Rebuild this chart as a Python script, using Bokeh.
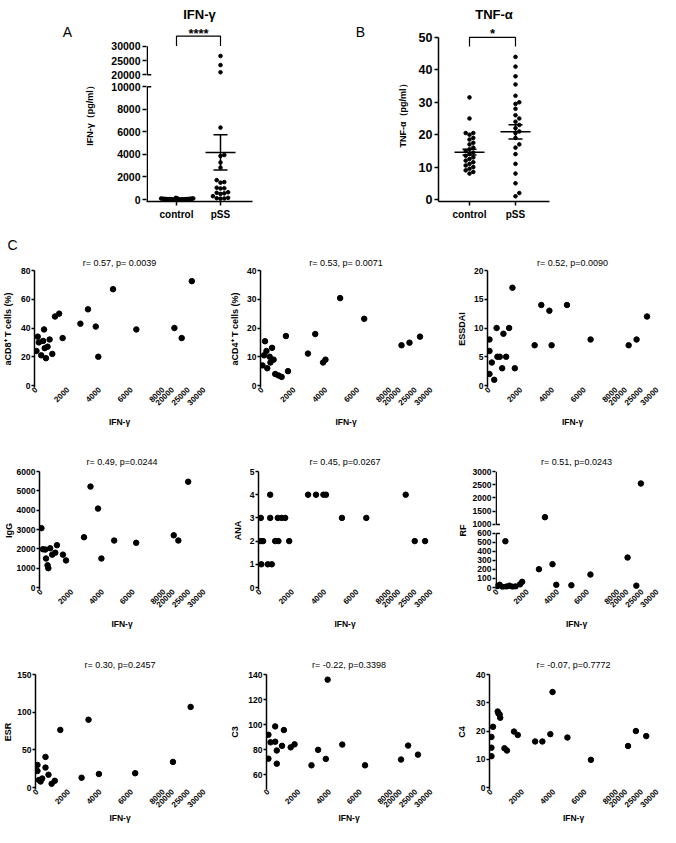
import numpy as np
from math import pi
from bokeh.plotting import figure
from bokeh.layouts import column, row
from bokeh.models import Range1d, FixedTicker, ColumnDataSource
from bokeh.core.properties import value
from bokeh.embed import file_html
from bokeh.resources import INLINE

FONT = "Liberation Sans"

# ---------------- data: panels A and B ----------------
group_names = ["control", "pSS"]
group_pos = [1, 2]

ifn_control = [150, 120, 100, 90, 80, 75, 70, 60, 55, 50, 45, 40, 40, 35, 30, 30,
               25, 20, 20, 15, 10, 10, 5, 5, 0, 0]
ifn_pss = [26600, 23400, 20900, 6380, 3950, 3860, 3290, 2830, 1720, 1550, 1500, 1050,
           1000, 980, 650, 600, 550, 500, 300, 150, 120, 100, 80]
ifn_mean = [55, 4180]
ifn_sem = [10, 1570]
ifn_ticks_low = [0, 2000, 4000, 6000, 8000, 10000]
ifn_ticks_high = [20000, 25000, 30000]
ifn_sig = "****"

tnf_control = [31.5, 25, 20.5, 20.5, 20, 19, 18.5, 17.5, 17, 16, 15.5, 15, 14.5, 14,
               13.5, 13, 12.5, 12, 11.5, 11, 10.5, 10, 9.5, 9, 8.5, 8]
tnf_pss = [44, 41, 38, 35.5, 32, 30, 29.5, 28, 26, 25, 24, 23, 22, 21, 20.5, 19, 17,
           16, 14, 11, 8, 5, 2, 1]
tnf_mean = [14.6, 20.9]
tnf_sem = [0.9, 2.2]
tnf_ticks = [0, 10, 20, 30, 40, 50]
tnf_sig = "*"

# ---------------- data: panel C (IFN-γ vs clinical values) ----------------
x_tick_values = [0, 2000, 4000, 6000, 8000, 20000, 25000, 30000]
x_label = "IFN-γ"

corr_titles = ["r= 0.57, p= 0.0039", "r= 0.53, p= 0.0071", "r= 0.52, p=0.0090",
               "r= 0.49, p=0.0244", "r= 0.45, p=0.0267", "r= 0.51, p=0.0243",
               "r= 0.30, p=0.2457", "r= -0.22, p=0.3398", "r= -0.07, p=0.7772"]
corr_ylabels = ["aCD8⁺ T cells (%)", "aCD4⁺ T cells (%)", "ESSDAI",
                "IgG", "ANA", "RF", "ESR", "C3", "C4"]

cd8_ifn = [0, 80, 420, 480, 520, 830, 1170, 1430, 1650, 2770, 3250, 3740, 4830, 6300,
           20500, 22800, 26000, 150, 300, 600, 700, 1000, 3900]
cd8_val = [24, 34, 31, 39, 26, 32, 48, 50, 33, 43, 53, 41, 67, 39, 40, 33, 72.6, 30,
           21, 19, 27, 22, 20]
cd8_ticks = [0, 20, 40, 60, 80]

cd4_ifn = [160, 600, 1470, 2850, 3310, 4870, 6380, 20600, 23100, 26400, 0, 100, 300,
           450, 500, 700, 800, 1000, 1200, 1600, 3800, 3950, 250]
cd4_val = [15.4, 13.1, 17.2, 11.1, 17.9, 30.4, 23.2, 14.0, 14.9, 17.0, 7, 10.5, 6, 10,
           8, 9, 4, 3.5, 3, 5, 8, 9, 12]
cd4_ticks = [0, 10, 20, 30, 40]

essdai_ifn = [0, 0, 450, 880, 1240, 1450, 2850, 3270, 3780, 3920, 4890, 6380, 20900,
              23400, 26700, 0, 150, 300, 500, 650, 800, 1050, 1600]
essdai_val = [8, 6, 10, 9, 10, 17, 7, 14, 13, 7, 14, 8, 7, 8, 12, 2, 4, 1, 5, 5, 3, 5, 3]
essdai_ticks = [0, 5, 10, 15, 20]

igg_ifn = [0, 100, 250, 570, 1010, 2770, 3190, 3680, 4730, 6160, 20000, 21500, 24700,
           300, 400, 450, 700, 900, 1400, 1600, 3900]
igg_val = [3070, 1980, 1960, 2030, 2190, 2600, 5220, 4080, 2430, 2310, 2700, 2430, 5470,
           1500, 1150, 1000, 1700, 1800, 1700, 1400, 1500]
igg_ticks = [0, 1000, 2000, 3000, 4000, 5000, 6000]

ana_ifn = [600, 2950, 3440, 3900, 4060, 22000, 20, 600, 1070, 1310, 1530, 5050, 6560,
           20, 160, 910, 1110, 1780, 24800, 28000, 50, 450, 700]
ana_val = [4, 4, 4, 4, 4, 4, 3, 3, 3, 3, 3, 3, 3, 2, 2, 2, 2, 2, 2, 2, 1, 1, 1]
ana_ticks = [0, 1, 2, 3, 4, 5]

rf_ifn = [530, 3150, 24500, 2750, 3650, 6160, 20100, 1640, 0, 150, 350, 600, 800, 1000,
          1200, 1500, 3900, 4900, 23000]
rf_val = [514, 1275, 2547, 203, 259, 144, 333, 63, 15, 30, 5, 10, 20, 8, 12, 35, 30, 25, 20]
rf_ticks = [0, 100, 200, 300, 400, 500, 600, 1000, 1500, 2000, 2500, 3000]

esr_ifn = [0, 510, 510, 1450, 3240, 20000, 25600, 0, 100, 300, 700, 900, 1100, 2800,
           3900, 6200, 200]
esr_val = [30, 40.6, 26.5, 76.5, 90, 34, 107, 22, 10, 12, 17, 5, 9, 13, 18, 19, 8]
esr_ticks = [0, 50, 100, 150]

c3_ifn = [0, 0, 140, 440, 440, 545, 545, 885, 1006, 1450, 1700, 2800, 3230, 3730, 3850,
          4800, 6280, 20100, 22400, 25600]
c3_val = [92, 73, 86, 98.7, 86.5, 79.5, 69, 83.2, 95.8, 82, 84.4, 67.7, 80, 72.8, 135.9,
          84.2, 67.7, 72.3, 83.4, 76.2]
c3_ticks = [60, 80, 100, 120, 140]

c4_ifn = [0, 0, 0, 100, 400, 450, 520, 560, 830, 990, 1440, 1680, 2790, 3250, 3760, 3900,
          4850, 6350, 20600, 23100, 26400]
c4_val = [17.9, 14.1, 11.1, 21.5, 26.9, 26.2, 25.9, 24.7, 13.9, 13.1, 19.8, 18.6, 16.3,
          16.3, 18.9, 33.8, 17.7, 9.8, 14.7, 20, 18.2]
c4_ticks = [0, 10, 20, 30, 40]

panel_letters = ["A", "B", "C"]

# ---------------- helpers ----------------
PAD = 2


def style_axis(ax, tick_size):
    ax.axis_line_color = "black"
    ax.axis_line_width = 1.5
    ax.major_tick_line_color = "black"
    ax.major_tick_line_width = 1.5
    ax.major_tick_in = 0
    ax.major_tick_out = 4
    ax.minor_tick_line_color = None
    ax.major_label_text_font = FONT
    ax.major_label_text_font_style = "bold"
    ax.major_label_text_font_size = tick_size
    ax.major_label_text_color = "black"
    ax.major_label_standoff = 2
    ax.axis_label_text_font = FONT
    ax.axis_label_text_font_style = "bold"
    ax.axis_label_text_color = "black"


def new_fig(w, h, left, top, frame_w, frame_h, xr, yr):
    p = figure(width=w, height=h, x_range=xr, y_range=yr, output_backend="svg",
               toolbar_location=None, min_border_left=left, min_border_top=top,
               min_border_right=w - left - frame_w, min_border_bottom=h - top - frame_h)
    p.grid.visible = False
    p.outline_line_color = None
    p.title.text_font = FONT
    p.title.align = "center"
    p.title.text_color = "black"
    return p


def letter_box(w, h, letter, lx, ly):
    """A blank strip that only carries a panel letter (lx, ly: px from its top-left)."""
    p = figure(width=w, height=h, x_range=Range1d(0, w), y_range=Range1d(0, h),
               output_backend="svg", toolbar_location=None, min_border=0,
               x_axis_type=None, y_axis_type=None)
    p.grid.visible = False
    p.outline_line_color = None
    p.text(x=[lx], y=[h - ly], text=[letter], text_font=value(FONT), text_font_size="14px",
           text_align="center", text_baseline="middle", text_color="black")
    return p


def swarm(ypx, d):
    ypx = np.asarray(ypx, dtype=float)
    steps = [0.0]
    for k in range(1, 80):
        steps += [k * d / 2, -k * d / 2]
    out = np.zeros(len(ypx))
    px, py = [], []
    for i in np.argsort(ypx):
        for c in steps:
            if all((c - a) ** 2 + (ypx[i] - b) ** 2 >= d * d - 1e-9 for a, b in zip(px, py)):
                out[i] = c
                break
        px.append(out[i])
        py.append(ypx[i])
    return out


def group_panel(p, ctrl, pss, mean, sem, ymap, sx, sy, d_list):
    gp = np.array(group_pos, dtype=float)
    for g, vals, d in zip(gp, [ctrl, pss], d_list):
        u = ymap(vals)
        off = swarm(u * sy, d) / sx
        p.scatter(g + off, u, size=3.6, fill_color="black", line_color="black")
    m = ymap(mean)
    lo = ymap(np.subtract(mean, sem))
    hi = ymap(np.add(mean, sem))
    p.segment(x0=gp - 15 / sx, x1=gp + 15 / sx, y0=m, y1=m, line_color="black", line_width=1.5)
    p.segment(x0=gp, x1=gp, y0=lo, y1=hi, line_color="black", line_width=1.5)
    for yy in (lo, hi):
        p.segment(x0=gp - 7 / sx, x1=gp + 7 / sx, y0=yy, y1=yy, line_color="black", line_width=1.5)


def sig_bracket(p, sig, y_leg, y_top, y_text):
    p.line(x=[group_pos[0], group_pos[0], group_pos[1], group_pos[1]],
           y=[y_leg, y_top, y_top, y_leg], line_color="black", line_width=1.2)
    p.text(x=[sum(group_pos) / 2], y=[y_text], text=[sig], text_font=value(FONT),
           text_font_size="13px", text_font_style="bold", text_align="center",
           text_baseline="middle", text_color="black")


def group_axes(p, tick_size, ylabel, label_standoff):
    xa = p.xaxis[0]
    style_axis(xa, "10px")
    xa.ticker = FixedTicker(ticks=group_pos)
    xa.major_label_overrides = dict(zip(group_pos, group_names))
    xa.major_label_standoff = 3
    ya = p.yaxis[0]
    style_axis(ya, tick_size)
    ya.axis_label = ylabel
    ya.axis_label_text_font_size = "9px"
    ya.axis_label_standoff = label_standoff
    return ya


def broken_axis_line(p, xr, sx, sy, y_start, lo, hi, top):
    """Two axis-line pieces with a gap between lo and hi (transformed values)."""
    x0 = xr.start + 0.75 / sx
    p.segment(x0=[x0, x0], x1=[x0, x0], y0=[y_start, hi], y1=[lo, top],
              line_color="black", line_width=1.5)
    p.segment(x0=[x0, x0], x1=[x0 + 4 / sx] * 2, y0=[lo, hi], y1=[lo, hi],
              line_color="black", line_width=1.5)


# ---------------- panel A ----------------
A_W, A_H, A_LEFT, A_TOP, A_FW, A_FH = 218, 235, 64, 24, 106, 181
A_SX, A_SY = 44.0, 0.0116
IFN_GAP, IFN_K = 1060.0, 0.2534


def ifn_u(v):
    v = np.asarray(v, dtype=float)
    return np.where(v <= 10000, v, 10000 + IFN_GAP + (v - 20000) * IFN_K)


a_x0 = 1 - 30 / A_SX
xrA = Range1d(a_x0, a_x0 + A_FW / A_SX)
yrA = Range1d(-PAD / A_SY, (A_FH - PAD) / A_SY)
pA = new_fig(A_W, A_H, A_LEFT, A_TOP, A_FW, A_FH, xrA, yrA)
pA.title.text = "IFN-γ"
pA.title.text_font_size = "13px"
pA.title.text_font_style = "bold"
pA.title.standoff = 8
group_panel(pA, ifn_control, ifn_pss, ifn_mean, ifn_sem, ifn_u, A_SX, A_SY, [1.4, 3.8])
sig_bracket(pA, ifn_sig, yrA.end - 21 / A_SY, yrA.end - 11 / A_SY, yrA.end - 8 / A_SY)
ya = group_axes(pA, "10.5px", "IFN-γ（pg/ml）", 13)
a_ticks = ifn_ticks_low + ifn_ticks_high
a_pos = [round(float(t), 1) for t in ifn_u(a_ticks)]
ya.ticker = FixedTicker(ticks=a_pos)
ya.major_label_overrides = {t: str(v) for t, v in zip(a_pos, a_ticks)}
ya.axis_line_color = None
broken_axis_line(pA, xrA, A_SX, A_SY, yrA.start, float(ifn_ticks_low[-1]),
                 float(ifn_u([ifn_ticks_high[0]])[0]), a_pos[-1])

# ---------------- panel B ----------------
B_W, B_H, B_LEFT, B_TOP, B_FW, B_FH = 270, 235, 48, 24, 111, 177
B_SX, B_SY = 46.0, 3.26
b_x0 = 1 - 31 / B_SX
xrB = Range1d(b_x0, b_x0 + B_FW / B_SX)
yrB = Range1d(-PAD / B_SY, (B_FH - PAD) / B_SY)
pB = new_fig(B_W, B_H, B_LEFT, B_TOP, B_FW, B_FH, xrB, yrB)
pB.title.text = "TNF-α"
pB.title.text_font_size = "13px"
pB.title.text_font_style = "bold"
pB.title.standoff = 8
lin = lambda v: np.asarray(v, dtype=float)
group_panel(pB, tnf_control, tnf_pss, tnf_mean, tnf_sem, lin, B_SX, B_SY, [3.8, 3.8])
sig_bracket(pB, tnf_sig, yrB.end - 21 / B_SY, yrB.end - 12 / B_SY, yrB.end - 8 / B_SY)
yb = group_axes(pB, "12.5px", "TNF-α（pg/ml）", 8)
yb.ticker = FixedTicker(ticks=tnf_ticks)
yb.bounds = (yrB.start, tnf_ticks[-1])

boxA = letter_box(82, 235, panel_letters[0], 67, 9)
boxB = letter_box(90, 235, panel_letters[1], 60, 9)
top_row = row(boxA, pA, boxB, pB)
boxC = letter_box(660, 17, panel_letters[2], 12, 9)

# ---------------- panel C ----------------
X_DATA_PX = 171
Y_DATA_PX = 116
X_GAP, X_K = 600.0, 0.2


def ifn_x(v):
    v = np.asarray(v, dtype=float)
    return np.where(v <= 8000, v, 8000 + X_GAP + (v - 20000) * X_K)


XT_MAX = float(ifn_x([x_tick_values[-1]])[0])

RF_GAP, RF_K = 100.0, 0.2944


def rf_y(v):
    v = np.asarray(v, dtype=float)
    return np.where(v <= 600, v, 600 + RF_GAP + (v - 1000) * RF_K)


def corr_panel(title, ylabel, xv, yv, yticks, ylo, yhi, w, h, left, top, lab_standoff,
               xlab_standoff, title_standoff, ymap=lin, ybreak=None):
    s = X_DATA_PX / XT_MAX
    yt_hi = float(ymap([yhi])[0])
    sy = Y_DATA_PX / (yt_hi - ylo)
    frame_w, frame_h = X_DATA_PX + PAD, Y_DATA_PX + PAD
    xr = Range1d(-PAD / s, XT_MAX)
    yr = Range1d(ylo - PAD / sy, yt_hi)
    p = new_fig(w, h, left, top, frame_w, frame_h, xr, yr)
    p.title.text = title
    p.title.text_font_size = "9px"
    p.title.text_font_style = "normal"
    p.title.standoff = title_standoff
    p.title.offset = -5
    src = ColumnDataSource(dict(x=ifn_x(xv), y=ymap(yv)))
    p.scatter("x", "y", source=src, size=5.5, fill_color="black", line_color="black")
    xa = p.xaxis[0]
    style_axis(xa, "8px")
    xa.axis_line_color = None
    xa.major_tick_line_color = None
    xa.major_tick_out = 0
    xa.major_label_standoff = 1
    tpos = [round(float(t), 1) for t in ifn_x(x_tick_values)]
    xa.ticker = FixedTicker(ticks=tpos)
    xa.major_label_overrides = {t: str(v) for t, v in zip(tpos, x_tick_values)}
    xa.major_label_orientation = pi / 4
    xa.axis_label = x_label
    xa.axis_label_text_font_size = "8.5px"
    xa.axis_label_standoff = xlab_standoff
    ya = p.yaxis[0]
    style_axis(ya, "8.5px")
    ya.bounds = (float(yr.start), yt_hi)
    ya.major_tick_out = 3
    ya.major_label_standoff = 1
    ypos = [round(float(t), 2) for t in ymap(yticks)]
    ya.ticker = FixedTicker(ticks=ypos)
    ya.major_label_overrides = {t: str(v) for t, v in zip(ypos, yticks)}
    ya.axis_label = ylabel
    ya.axis_label_text_font_size = "9px"
    ya.axis_label_standoff = lab_standoff
    if ybreak is not None:
        lo, hi = [float(b) for b in ymap(ybreak)]
        ya.axis_line_color = None
        broken_axis_line(p, xr, s, sy, yr.start, lo, hi, yt_hi)
    return p


ROW_H = [185, 202, 186]
ROW_TOP = [17, 34, 35]
TITLE_STANDOFF = [6, 9, 9]
COL_W = [227, 227, 206]
COL_LEFT = [31, 31, 30]
LAB_STANDOFF = [[5, 4, 4], [0, 4, 2], [1, 5, 6]]
XLAB_STANDOFF = [6, 6, 0]

specs = [
    (cd8_ifn, cd8_val, cd8_ticks, 0, 80, lin, None),
    (cd4_ifn, cd4_val, cd4_ticks, 0, 40, lin, None),
    (essdai_ifn, essdai_val, essdai_ticks, 0, 20, lin, None),
    (igg_ifn, igg_val, igg_ticks, 0, 6000, lin, None),
    (ana_ifn, ana_val, ana_ticks, 0, 5, lin, None),
    (rf_ifn, rf_val, rf_ticks, 0, 3000, rf_y, [600, 1000]),
    (esr_ifn, esr_val, esr_ticks, 0, 150, lin, None),
    (c3_ifn, c3_val, c3_ticks, 50, 140, lin, None),
    (c4_ifn, c4_val, c4_ticks, 0, 40, lin, None),
]

rows = []
for r in range(3):
    figs = []
    for c in range(3):
        k = r * 3 + c
        xv, yv, yt, ylo, yhi, ymap, yb = specs[k]
        p = corr_panel(corr_titles[k], corr_ylabels[k], xv, yv, yt, ylo, yhi,
                       COL_W[c], ROW_H[r], COL_LEFT[c], ROW_TOP[r], LAB_STANDOFF[r][c],
                       XLAB_STANDOFF[r], TITLE_STANDOFF[r], ymap=ymap, ybreak=yb)
        figs.append(p)
    rows.append(row(*figs))

layout = column(top_row, boxC, *rows)
open("out.html", "w").write(file_html(layout, INLINE))
